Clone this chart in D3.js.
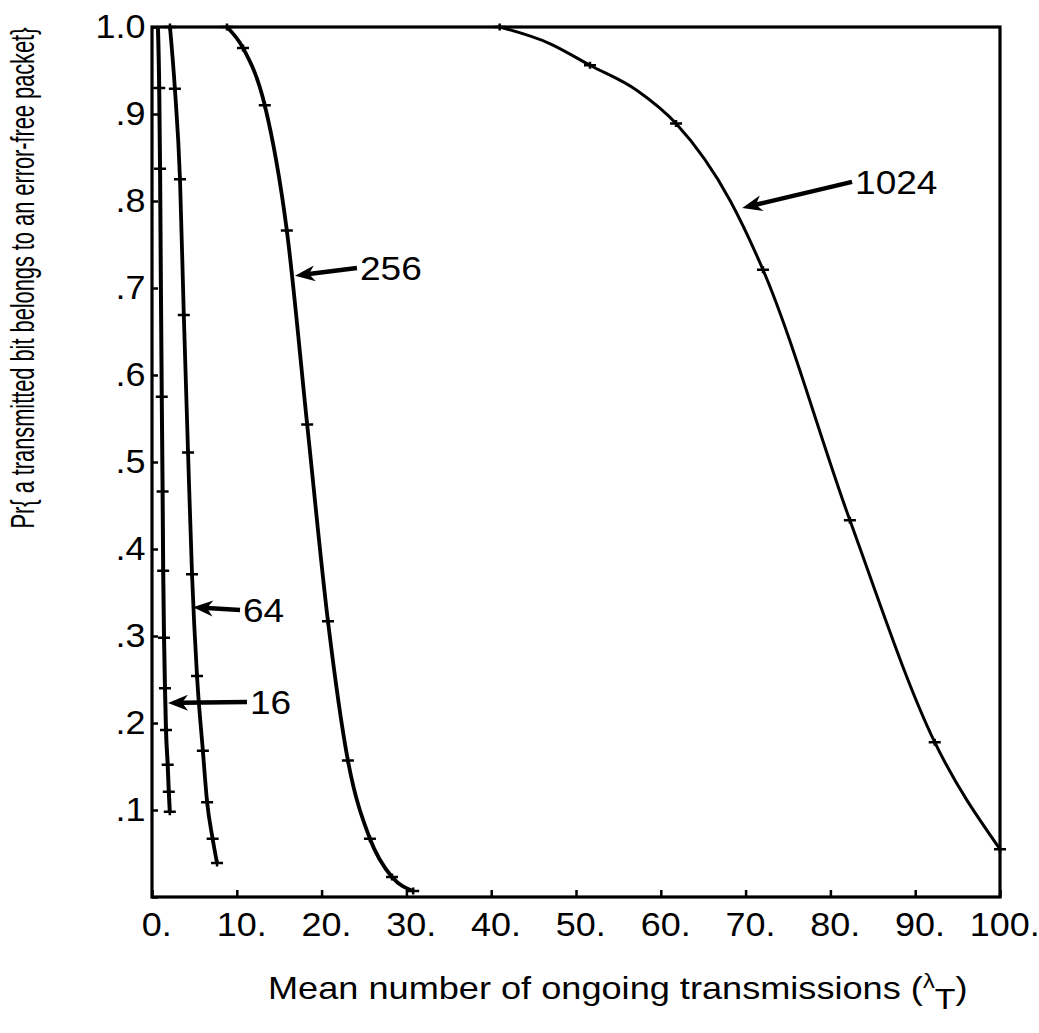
<!DOCTYPE html>
<html>
<head>
<meta charset="utf-8">
<script src="https://cdn.jsdelivr.net/npm/d3@7/dist/d3.min.js"></script>
<style>
  body { margin: 0; background: #fff; }
  text { font-family: "Liberation Sans", Arial, Helvetica, sans-serif; fill: #000; }
</style>
</head>
<body>
<div id="wrapper"></div>
<script>
// values
const xTicks = [0, 10, 20, 30, 40, 50, 60, 70, 80, 90, 100]
const xTickLabels = ["0.", "10.", "20.", "30.", "40.", "50.", "60.", "70.", "80.", "90.", "100."]
const yTicks = [0, 0.1, 0.2, 0.3, 0.4, 0.5, 0.6, 0.7, 0.8, 0.9, 1.0]
const yTickLabels = ["", ".1", ".2", ".3", ".4", ".5", ".6", ".7", ".8", ".9", "1.0"]

const seriesNames = ["16", "64", "256", "1024"]

// packet length 16
const line16 = [[0.7, 1.0], [0.85, 0.93], [0.95, 0.837], [1.05, 0.70], [1.15, 0.575], [1.25, 0.466],
  [1.32, 0.375], [1.42, 0.298], [1.53, 0.24], [1.65, 0.192], [1.85, 0.152], [1.98, 0.121], [2.1, 0.098]]
const marks16 = [[0.85, 0.93], [0.95, 0.837], [1.15, 0.575], [1.25, 0.466], [1.32, 0.375],
  [1.42, 0.298], [1.53, 0.24], [1.65, 0.192], [1.85, 0.152], [1.98, 0.121], [2.1, 0.098]]

// packet length 64
const line64 = [[2.12, 1.0], [2.7, 0.929], [3.3, 0.825], [3.75, 0.669], [4.25, 0.511], [4.72, 0.371],
  [5.31, 0.254], [6.0, 0.168], [6.5, 0.109], [7.15, 0.067], [7.67, 0.039]]
const marks64 = line64

// packet length 256
const line256 = [[8.84, 1.0], [10.73, 0.976], [13.3, 0.910], [15.9, 0.766], [18.3, 0.543], [20.75, 0.317],
  [23.1, 0.157], [25.7, 0.067], [28.3, 0.023], [30.8, 0.007]]
const marks256 = line256

// packet length 1024
const line1024 = [[41.0, 1.0], [46.9, 0.981], [51.65, 0.956], [57.2, 0.927], [61.8, 0.889], [68.2, 0.80],
  [72.05, 0.721], [82.3, 0.433], [92.3, 0.178], [100, 0.055]]
const marks1024 = [[41.0, 1.0], [51.65, 0.956], [61.8, 0.889], [72.05, 0.721], [82.3, 0.433], [92.3, 0.178], [100, 0.055]]

// label arrows: tip on the curve, tail next to the label
const arrowTips = [[1.89, 0.223], [4.83, 0.333], [16.86, 0.714], [69.6, 0.792]]
const arrowTails = [[11.2, 0.224], [10.38, 0.330], [24.17, 0.723], [82.55, 0.822]]

const xTitle = "Mean number of ongoing transmissions ("
const yTitle = "Pr{ a transmitted bit belongs to an error-free packet}"

function drawChart() {
  let dimensions = {
    width: 1039,
    height: 1033,
    margin: { top: 27, right: 39, bottom: 136, left: 152 }
  }
  dimensions.boundedWidth = dimensions.width - dimensions.margin.left - dimensions.margin.right
  dimensions.boundedHeight = dimensions.height - dimensions.margin.top - dimensions.margin.bottom

  const svg = d3.select("#wrapper")
    .append("svg")
      .attr("width", dimensions.width)
      .attr("height", dimensions.height)
  const bounds = svg.append("g")
      .attr("transform", `translate(${dimensions.margin.left},${dimensions.margin.top})`)

  const xScale = d3.scaleLinear().domain([0, 100]).range([0, dimensions.boundedWidth])
  const yScale = d3.scaleLinear().domain([0, 1]).range([dimensions.boundedHeight, 0])

  // axes, ticks pointing inward
  const xAxis = bounds.append("g")
      .attr("transform", `translate(0,${dimensions.boundedHeight})`)
      .call(d3.axisBottom(xScale).tickValues(xTicks).tickSize(-7).tickPadding(16)
        .tickFormat((d, i) => xTickLabels[i]))
  const yAxis = bounds.append("g")
      .call(d3.axisLeft(yScale).tickValues(yTicks).tickSize(-6).tickPadding(6)
        .tickFormat((d, i) => yTickLabels[i]))
  ;[xAxis, yAxis].forEach(ax => {
    ax.select(".domain").remove()
    ax.selectAll(".tick line").attr("stroke", "#000").attr("stroke-width", 2.5)
    ax.selectAll(".tick text")
        .style("font-size", "33px")
        .attr("fill", "#000")
        .attr("transform", "scale(1.09,1)")
  })
  xAxis.selectAll(".tick text").attr("dx", 4)

  // frame
  bounds.append("rect")
      .attr("x", xScale(0))
      .attr("y", yScale(1))
      .attr("width", xScale(100) - xScale(0))
      .attr("height", yScale(0) - yScale(1))
      .attr("fill", "none")
      .attr("stroke", "#000")
      .attr("stroke-width", 3.2)

  // curves
  const lineGen = d3.line()
      .x(d => xScale(d[0]))
      .y(d => yScale(d[1]))
      .curve(d3.curveMonotoneX)
  const lines = [line16, line64, line256, line1024]
  const marks = [marks16, marks64, marks256, marks1024]
  const widths = [4, 3.8, 3.8, 3]

  lines.forEach((pts, i) => {
    bounds.append("path")
        .datum(pts)
        .attr("d", lineGen)
        .attr("fill", "none")
        .attr("stroke", "#000")
        .attr("stroke-width", widths[i])
        .attr("stroke-linejoin", "round")
    bounds.append("g").selectAll("path")
      .data(marks[i])
      .join("path")
        .attr("transform", d => `translate(${xScale(d[0])},${yScale(d[1])})`)
        .attr("d", "M-6,0H6M0,-3.5V3.5")
        .attr("stroke", "#000")
        .attr("stroke-width", 2.5)
  })

  // arrows with labels
  seriesNames.forEach((name, i) => {
    const tx = xScale(arrowTips[i][0]), ty = yScale(arrowTips[i][1])
    const sx = xScale(arrowTails[i][0]), sy = yScale(arrowTails[i][1])
    const ang = Math.atan2(ty - sy, tx - sx)
    const headLen = 20, headW = 8
    const bx = tx - Math.cos(ang) * headLen, by = ty - Math.sin(ang) * headLen
    const nx = -Math.sin(ang), ny = Math.cos(ang)
    const notchX = tx - Math.cos(ang) * headLen * 0.7, notchY = ty - Math.sin(ang) * headLen * 0.7

    bounds.append("line")
        .attr("x1", sx).attr("y1", sy)
        .attr("x2", notchX).attr("y2", notchY)
        .attr("stroke", "#000")
        .attr("stroke-width", 4.5)
    bounds.append("path")
        .attr("d", `M${tx},${ty}L${bx + nx * headW},${by + ny * headW}L${notchX},${notchY}L${bx - nx * headW},${by - ny * headW}Z`)
        .attr("fill", "#000")
    bounds.append("text")
        .attr("transform", `translate(${sx + 3},${sy}) scale(1.09,1)`)
        .attr("dy", "0.36em")
        .style("font-size", "34px")
        .text(name)
  })

  // axis titles
  const xt = svg.append("text")
      .attr("transform", "translate(268,999) scale(1.13,1)")
      .style("font-size", "32px")
  xt.append("tspan").text(xTitle)
  xt.append("tspan").attr("dy", -11).style("font-size", "21px").text("\u03bb")
  xt.append("tspan").attr("dy", 21).style("font-size", "30px").text("T")
  xt.append("tspan").attr("dy", -10).text(")")

  svg.append("text")
      .attr("transform", "translate(34,278) rotate(-90) scale(0.66,1)")
      .attr("text-anchor", "middle")
      .style("font-size", "33px")
      .text(yTitle)
}
drawChart()
</script>
</body>
</html>
